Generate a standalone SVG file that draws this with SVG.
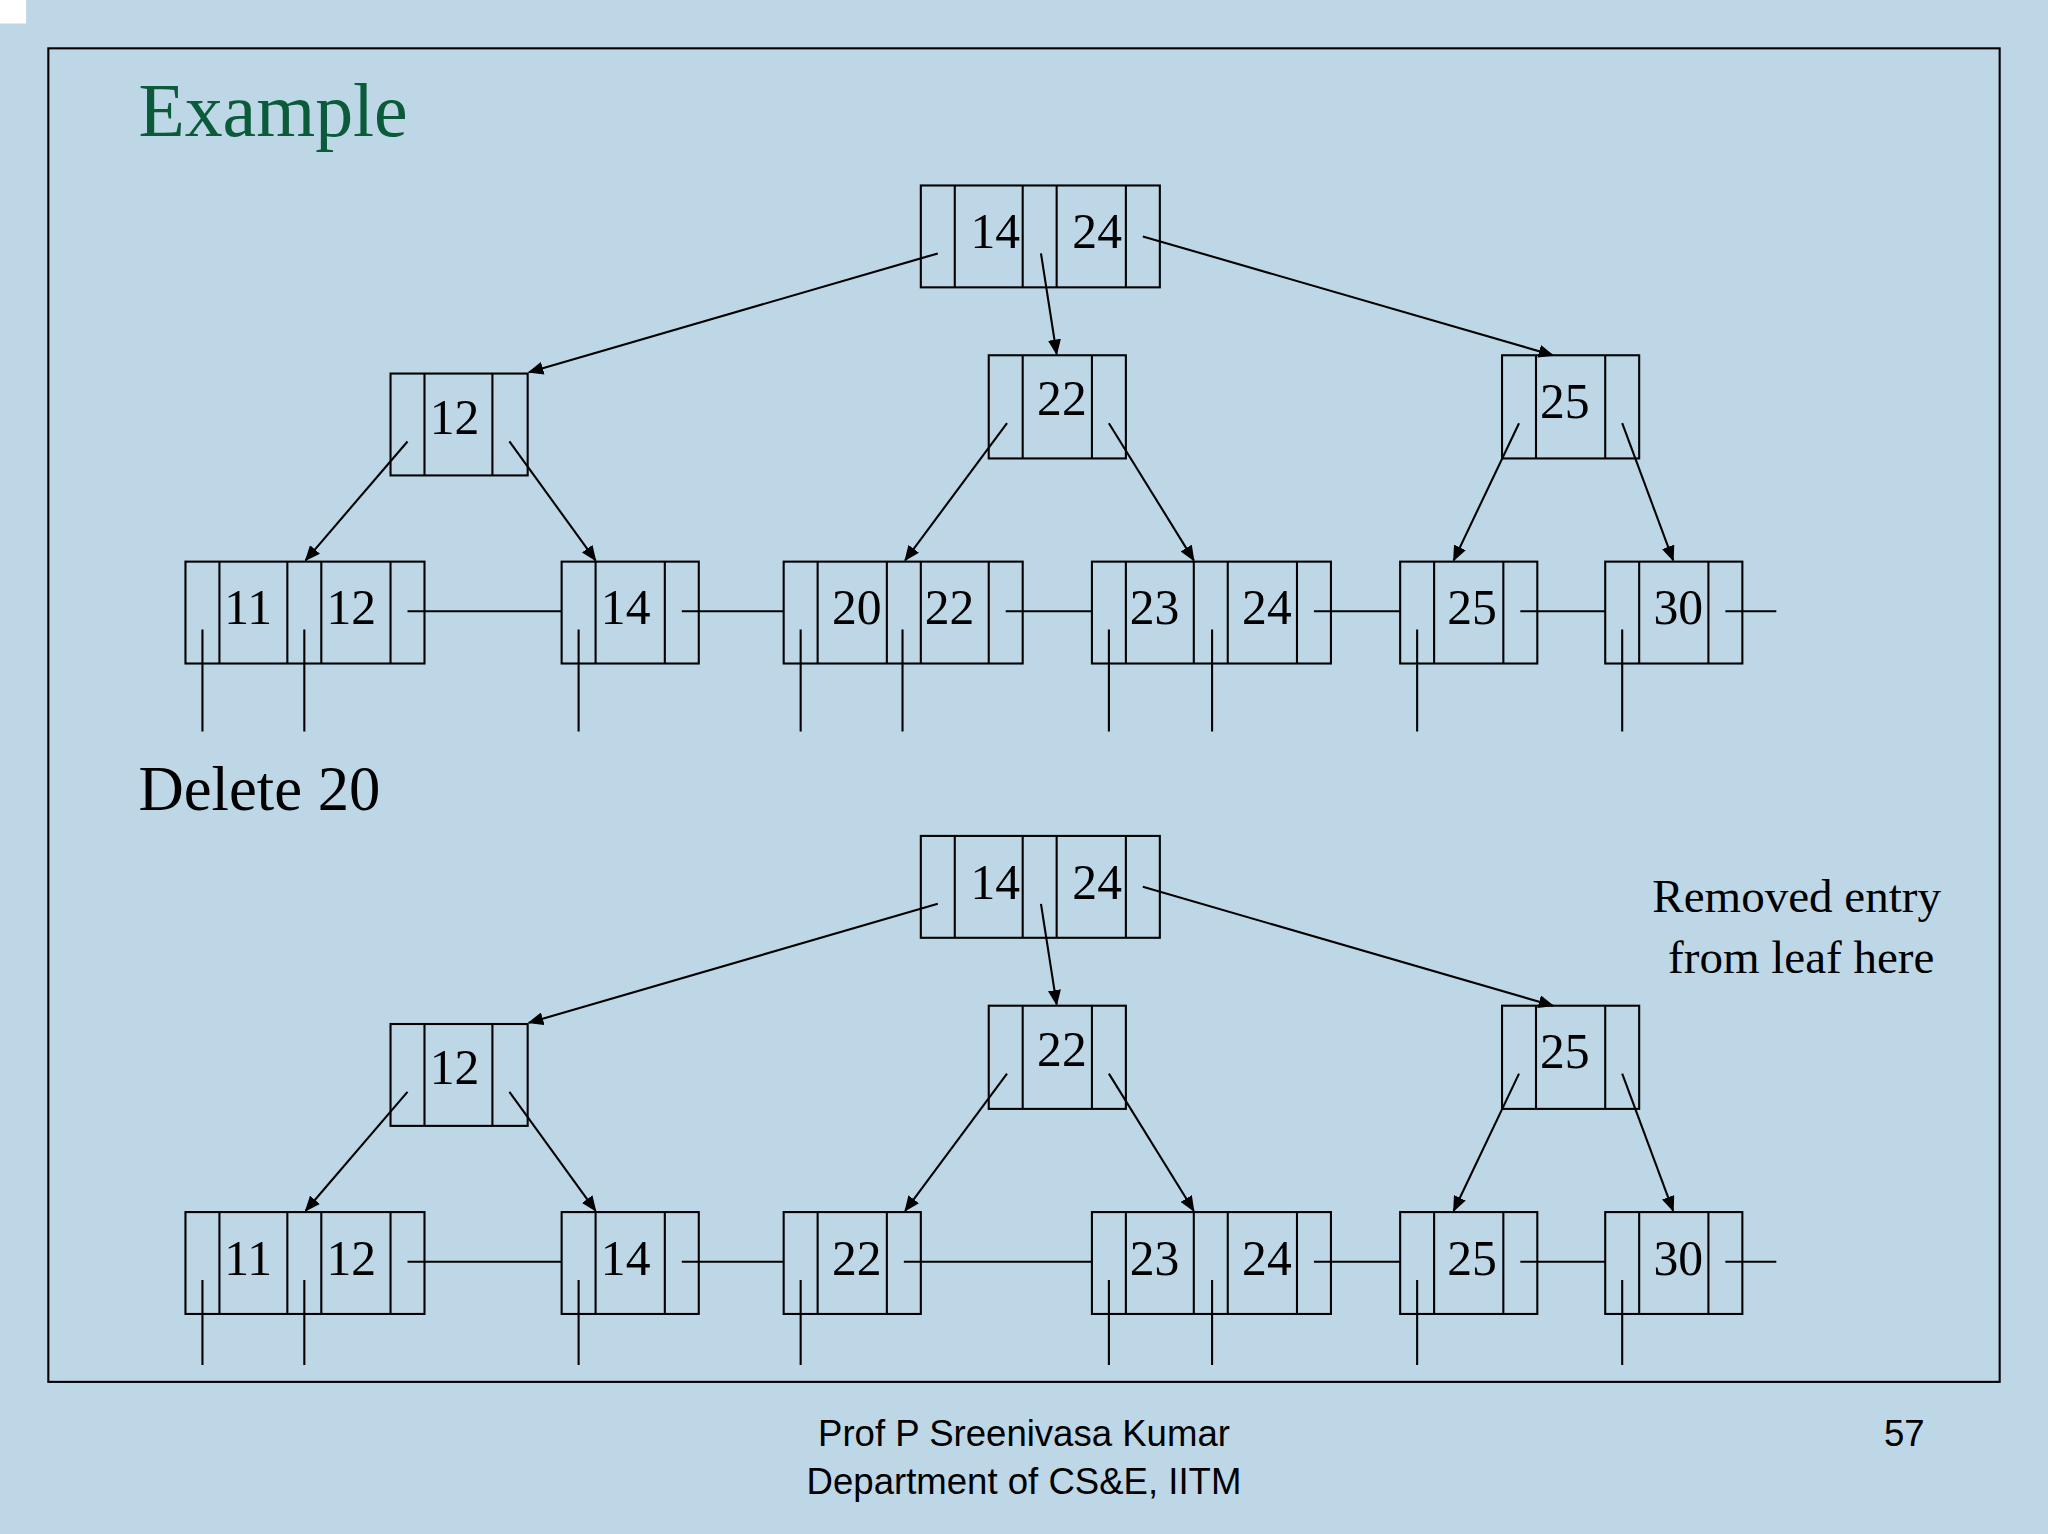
<svg xmlns="http://www.w3.org/2000/svg" width="2048" height="1534" viewBox="0 0 2048 1534">
<style>
.b{fill:none;stroke:#000;stroke-width:1.6}
.l{stroke:#000;stroke-width:1.6;fill:none}
.a{stroke:#000;stroke-width:1.6;fill:none;marker-end:url(#ah)}
.t{font-family:"Liberation Serif",serif;font-size:38px;text-anchor:middle;fill:#000}
.f{font-family:"Liberation Sans",sans-serif;font-size:28px;text-anchor:middle;fill:#000}
</style>
<defs>
<marker id="ah" markerWidth="12" markerHeight="10" refX="11" refY="5" orient="auto" markerUnits="userSpaceOnUse"><path d="M0,0L12,5L0,10z" fill="#000"/></marker>
</defs>
<rect width="2048" height="1534" fill="#bdd7e7"/>
<g transform="scale(1.30612)">
<rect x="0" y="0" width="20" height="18" fill="#fff"/>
<rect x="37" y="37" width="1494" height="1021" class="b"/>
<text x="106" y="104" font-family="Liberation Serif,serif" font-size="58" fill="#0b5a3a">Example</text>
<text x="106" y="620" font-family="Liberation Serif,serif" font-size="48" fill="#000">Delete 20</text>
<text x="1486" y="698" font-family="Liberation Serif,serif" font-size="36" text-anchor="end">Removed entry</text>
<text x="1481" y="745" font-family="Liberation Serif,serif" font-size="36" text-anchor="end">from leaf here</text>
<text x="784" y="1107" class="f">Prof P Sreenivasa Kumar</text>
<text x="784" y="1144" class="f">Department of CS&amp;E, IITM</text>
<text x="1458" y="1107" class="f">57</text>

<g id="tree1">
<g id="t1-root"><rect x="705" y="142" width="183" height="78" class="b"/><path class="l" d="M731,142V220M783,142V220M809,142V220M862,142V220"/><text x="762" y="190" class="t">14</text><text x="840" y="190" class="t">24</text></g>
<g id="t1-n12"><rect x="299" y="286" width="105" height="78" class="b"/><path class="l" d="M325,286V364M377,286V364"/><text x="348" y="332" class="t">12</text></g>
<g id="t1-n22"><rect x="757" y="272" width="105" height="79" class="b"/><path class="l" d="M783,272V351M836,272V351"/><text x="813" y="318" class="t">22</text></g>
<g id="t1-n25"><rect x="1150" y="272" width="105" height="79" class="b"/><path class="l" d="M1176,272V351M1229,272V351"/><text x="1198" y="320" class="t">25</text></g>
<g id="t1-L1"><rect x="142" y="430" width="183" height="78" class="b"/><path class="l" d="M168,430V508M220,430V508M246,430V508M299,430V508"/><text x="190" y="478" class="t">11</text><text x="269" y="478" class="t">12</text></g>
<g id="t1-L2"><rect x="430" y="430" width="105" height="78" class="b"/><path class="l" d="M456,430V508M509,430V508"/><text x="479" y="478" class="t">14</text></g>
<g id="t1-L3"><rect x="600" y="430" width="183" height="78" class="b"/><path class="l" d="M626,430V508M679,430V508M705,430V508M757,430V508"/><text x="656" y="478" class="t">20</text><text x="727" y="478" class="t">22</text></g>
<g id="t1-L4"><rect x="836" y="430" width="183" height="78" class="b"/><path class="l" d="M862,430V508M914,430V508M940,430V508M993,430V508"/><text x="884" y="478" class="t">23</text><text x="970" y="478" class="t">24</text></g>
<g id="t1-L5"><rect x="1072" y="430" width="105" height="78" class="b"/><path class="l" d="M1098,430V508M1151,430V508"/><text x="1127" y="478" class="t">25</text></g>
<g id="t1-L6"><rect x="1229" y="430" width="105" height="78" class="b"/><path class="l" d="M1255,430V508M1308,430V508"/><text x="1285" y="478" class="t">30</text></g>
</g>
<g id="conn1">
<path class="l" d="M312,468H430M522,468H600M770,468H836M1006,468H1072M1164,468H1229M1321,468H1360"/>
<path class="l" d="M155,482V560M233,482V560M443,482V560M613,482V560M691,482V560M849,482V560M928,482V560M1085,482V560M1242,482V560"/>
<path class="a" d="M718,194L405,285"/><path class="a" d="M797,194L809,271"/><path class="a" d="M875,181L1189,272"/>
<path class="a" d="M312,338L234,429"/><path class="a" d="M390,338L456,429"/>
<path class="a" d="M771,324L693,429"/><path class="a" d="M849,324L914,429"/>
<path class="a" d="M1163,324L1113,429"/><path class="a" d="M1242,324L1281,429"/>
</g>

<g id="tree2" transform="translate(0,498)">
<g id="t2-root"><rect x="705" y="142" width="183" height="78" class="b"/><path class="l" d="M731,142V220M783,142V220M809,142V220M862,142V220"/><text x="762" y="190" class="t">14</text><text x="840" y="190" class="t">24</text></g>
<g id="t2-n12"><rect x="299" y="286" width="105" height="78" class="b"/><path class="l" d="M325,286V364M377,286V364"/><text x="348" y="332" class="t">12</text></g>
<g id="t2-n22"><rect x="757" y="272" width="105" height="79" class="b"/><path class="l" d="M783,272V351M836,272V351"/><text x="813" y="318" class="t">22</text></g>
<g id="t2-n25"><rect x="1150" y="272" width="105" height="79" class="b"/><path class="l" d="M1176,272V351M1229,272V351"/><text x="1198" y="320" class="t">25</text></g>
<g id="t2-L1"><rect x="142" y="430" width="183" height="78" class="b"/><path class="l" d="M168,430V508M220,430V508M246,430V508M299,430V508"/><text x="190" y="478" class="t">11</text><text x="269" y="478" class="t">12</text></g>
<g id="t2-L2"><rect x="430" y="430" width="105" height="78" class="b"/><path class="l" d="M456,430V508M509,430V508"/><text x="479" y="478" class="t">14</text></g>
<g id="t2-L3"><rect x="600" y="430" width="105" height="78" class="b"/><path class="l" d="M626,430V508M679,430V508"/><text x="656" y="478" class="t">22</text></g>
<g id="t2-L4"><rect x="836" y="430" width="183" height="78" class="b"/><path class="l" d="M862,430V508M914,430V508M940,430V508M993,430V508"/><text x="884" y="478" class="t">23</text><text x="970" y="478" class="t">24</text></g>
<g id="t2-L5"><rect x="1072" y="430" width="105" height="78" class="b"/><path class="l" d="M1098,430V508M1151,430V508"/><text x="1127" y="478" class="t">25</text></g>
<g id="t2-L6"><rect x="1229" y="430" width="105" height="78" class="b"/><path class="l" d="M1255,430V508M1308,430V508"/><text x="1285" y="478" class="t">30</text></g>
<g id="conn2">
<path class="l" d="M312,468H430M522,468H600M692,468H836M1006,468H1072M1164,468H1229M1321,468H1360"/>
<path class="l" d="M155,482V547M233,482V547M443,482V547M613,482V547M849,482V547M928,482V547M1085,482V547M1242,482V547"/>
<path class="a" d="M718,194L405,285"/><path class="a" d="M797,194L809,271"/><path class="a" d="M875,181L1189,272"/>
<path class="a" d="M312,338L234,429"/><path class="a" d="M390,338L456,429"/>
<path class="a" d="M771,324L693,429"/><path class="a" d="M849,324L914,429"/>
<path class="a" d="M1163,324L1113,429"/><path class="a" d="M1242,324L1281,429"/>
</g>
</g>
</g>
</svg>
